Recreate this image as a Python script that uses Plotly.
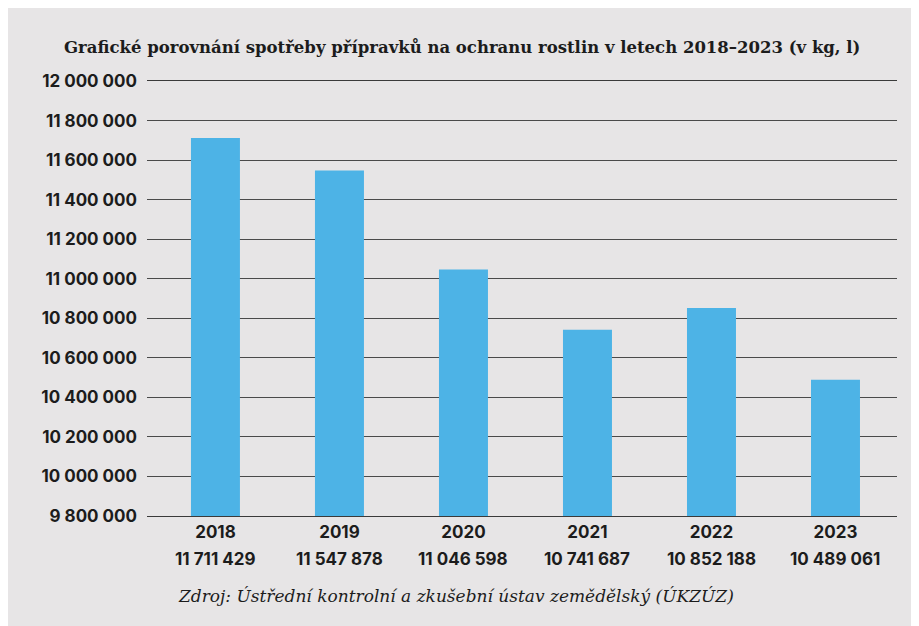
import plotly.graph_objects as go

years = ["2018", "2019", "2020", "2021", "2022", "2023"]
values = [11711429, 11547878, 11046598, 10741687, 10852188, 10489061]
tick_vals = [9800000 + 200000 * i for i in range(12)]

def fmt(v):
    return f"{v:,}".replace(",", " ")

tick_text = [fmt(v) for v in tick_vals]

TITLE = "Grafické porovnání spotřeby přípravků na ochranu rostlin v letech 2018–2023 (v kg, l)"
SOURCE = "Zdroj: Ústřední kontrolní a zkušební ústav zemědělský (ÚKZÚZ)"

OFF = 8  # page body margin
W, H = 911, 618
L, R, T, B = 139, 22, 73, 110
pw, ph = W - L - R, H - T - B

def px_x(x):
    return (x - OFF - L) / pw

def px_y(y):
    return (H - B - (y - OFF)) / ph

bg = "#e7e5e6"
txt = "#1c1c1c"
sans = "Inter, Lato, sans-serif"
serif = "DejaVu Serif, serif"

fig = go.Figure()
fig.add_trace(go.Bar(x=years, y=values,
                     marker=dict(color="#4db3e6", line=dict(width=0)),
                     hoverinfo="skip"))

annotations = []
for i, v in enumerate(values):
    annotations.append(dict(x=i, y=px_y(559), xref="x", yref="paper", text=fmt(v),
                            showarrow=False, font=dict(family=sans, size=17, color=txt, weight=700),
                            xanchor="center", yanchor="middle"))
annotations.append(dict(x=px_x(462), y=px_y(47), xref="paper", yref="paper", text="<b>" + TITLE + "</b>",
                        showarrow=False, font=dict(family=serif, size=16.5, color=txt),
                        xanchor="center", yanchor="middle"))
annotations.append(dict(x=px_x(456), y=px_y(596), xref="paper", yref="paper", text="<i>" + SOURCE + "</i>",
                        showarrow=False, font=dict(family=serif, size=17, color=txt),
                        xanchor="center", yanchor="middle"))

fig.update_layout(
    width=W, height=H, autosize=False,
    margin=dict(l=L, r=R, t=T, b=B, pad=0),
    paper_bgcolor=bg, plot_bgcolor=bg,
    bargap=0.605, showlegend=False,
    annotations=annotations,
    xaxis=dict(type="category", range=[-0.552, 5.496], autorange=False,
               showgrid=False, showline=True, mirror=True, linecolor="#3a3a3a", linewidth=1.3,
               ticks="", zeroline=False,
               tickfont=dict(family=sans, size=17, color=txt, weight=700),
               ticklabelstandoff=0),
    yaxis=dict(range=[9800000, 12000000], autorange=False,
               tickvals=tick_vals, ticktext=tick_text,
               showgrid=True, gridcolor="#4a4a4a", gridwidth=1.3, zeroline=False,
               showline=False, ticks="",
               tickfont=dict(family=sans, size=17, color=txt, weight=700),
               ticklabelstandoff=9),
)

fig.write_html("out.html")
